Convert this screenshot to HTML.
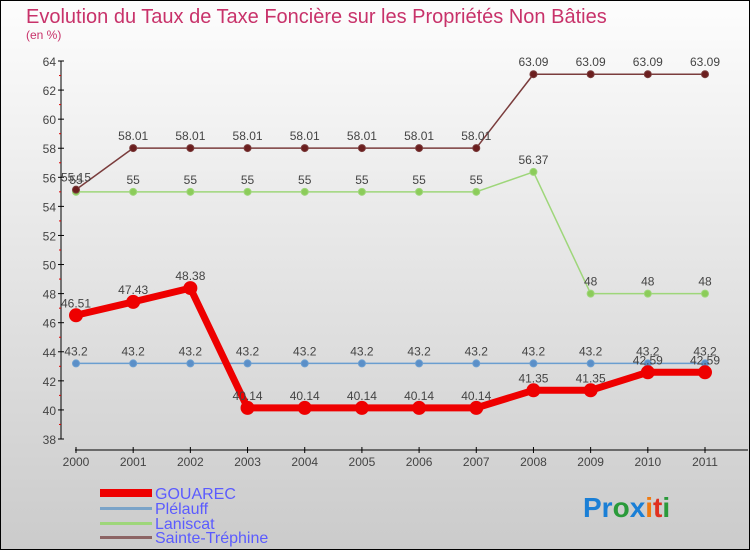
<!DOCTYPE html>
<html><head><meta charset="utf-8"><style>
body{margin:0}
#c{width:750px;height:550px;position:relative;font-family:"Liberation Sans",sans-serif;}
</style></head><body>
<div id="c">
<svg id="s" width="750" height="550" xmlns="http://www.w3.org/2000/svg">
<defs><linearGradient id="bg" x1="0" y1="0" x2="0" y2="1"><stop offset="0" stop-color="#fdfdfd"/><stop offset="1" stop-color="#cbcbcb"/></linearGradient></defs>
<rect x="0.5" y="0.5" width="749" height="549" fill="url(#bg)" stroke="#000"/>
<text x="26" y="23" font-size="20" fill="#c8326a">Evolution du Taux de Taxe Foncière sur les Propriétés Non Bâties</text>
<text x="26" y="39" font-size="12" fill="#c8326a">(en %)</text>
<g id="grid"></g><g id="axes"></g><g id="series"></g>
<g>
<rect x="100" y="489" width="52" height="8" fill="#e00"/>
<text x="155" y="499" font-size="16" fill="#5b5bff">GOUAREC</text>
<rect x="100" y="507" width="52" height="3" fill="#7aa3c8"/>
<text x="155" y="514" font-size="16" fill="#5b5bff">Plélauff</text>
<rect x="100" y="522" width="52" height="3" fill="#9ed67a"/>
<text x="155" y="529" font-size="16" fill="#5b5bff">Laniscat</text>
<rect x="100" y="536" width="52" height="3" fill="#8c6464"/>
<text x="155" y="543" font-size="16" fill="#5b5bff">Sainte-Tréphine</text>
</g>
<g font-size="28" font-weight="bold">
<text x="583" y="517"><tspan fill="#1a7fd6">Pr</tspan><tspan fill="#2a9a3a">o</tspan><tspan fill="#1a7fd6">x</tspan><tspan fill="#f07a10">i</tspan><tspan fill="#e03020">t</tspan><tspan fill="#2a9a3a">i</tspan></text>
</g>
</svg>
</div>
<script>
const years=[2000,2001,2002,2003,2004,2005,2006,2007,2008,2009,2010,2011];
const gouarec=[46.51,47.43,48.38,40.14,40.14,40.14,40.14,40.14,41.35,41.35,42.59,42.59];
const plelauff=[43.2,43.2,43.2,43.2,43.2,43.2,43.2,43.2,43.2,43.2,43.2,43.2];
const laniscat=[55,55,55,55,55,55,55,55,56.37,48,48,48];
const sainteTrephine=[55.15,58.01,58.01,58.01,58.01,58.01,58.01,58.01,63.09,63.09,63.09,63.09];
const yTicks=[38,40,42,44,46,48,50,52,54,56,58,60,62,64];
const NS="http://www.w3.org/2000/svg";
const X=i=>76+i*(705-76)/(years.length-1);
const Y=v=>439-(v-38)*(378/26);
function mk(t,a,p){const e=document.createElementNS(NS,t);for(const k in a)e.setAttribute(k,a[k]);(p||document.getElementById('series')).appendChild(e);return e;}
const axes=document.getElementById('axes');
let e=mk('line',{x1:61,y1:Y(64),x2:61,y2:Y(38),stroke:'#000'},axes);


e=mk('line',{x1:75,y1:450,x2:748,y2:450,stroke:'#000'},axes);


yTicks.forEach(v=>{
 mk('line',{x1:58,x2:64,y1:Y(v),y2:Y(v),stroke:'#000'},axes);
 if(v<64)mk('line',{x1:59,x2:61,y1:Y(v+1),y2:Y(v+1),stroke:'#d00'},axes);
 const t=mk('text',{x:56,y:Y(v)+5,'text-anchor':'end','font-size':12,fill:'#444'},axes);
 t.textContent=v;
 
 
});
years.forEach((y,i)=>{
 mk('line',{x1:X(i),x2:X(i),y1:447,y2:453,stroke:'#000'},axes);
 const t=mk('text',{x:X(i),y:466,'text-anchor':'middle','font-size':12,fill:'#444'},axes);
 t.textContent=y;
 
 
});
function series(name,vals,color,w,r,dot,lab){
 const g=mk('g',{});
 
 
 mk('polyline',{points:vals.map((v,i)=>X(i)+','+Y(v)).join(' '),fill:'none',stroke:color,'stroke-width':w,'stroke-linejoin':'round'},g);
 vals.forEach((v,i)=>{
  const c=mk('circle',{cx:X(i),cy:Y(v),r:r,fill:dot,stroke:color,'stroke-width':1},g);
  
  
  const t=mk('text',{x:X(i),y:Y(v)-8,'text-anchor':'middle','font-size':12,fill:'#444'},g);
  t.textContent=v;
  
  
 });
}
series('plelauff',plelauff,'#6a9ed0',1.5,3.5,'#5b8fc8');
series('laniscat',laniscat,'#9ed67a',1.5,3.5,'#8ccc5a');
series('sainte-trephine',sainteTrephine,'#7a3c3c',1.5,3.5,'#6b1e1e');
series('gouarec',gouarec,'#ee0000',7,6.5,'#ee0000');
</script>
</body></html>
